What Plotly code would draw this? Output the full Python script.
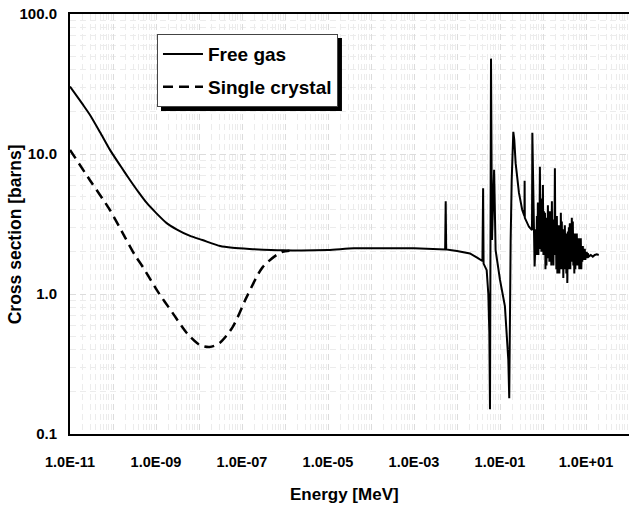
import plotly.graph_objects as go

# ---------------- data ----------------
# Free gas, smooth thermal part (Energy MeV, cross section barns)
fg_smooth_E = [1.0e-11, 2.0e-11, 2.92e-11, 5.0e-11, 8.5e-11, 1.5e-10, 2.5e-10, 4.0e-10,
               6.1e-10, 1.0e-9, 1.77e-9, 3.0e-9, 6.2e-9, 1.2e-8, 3.1e-8, 6.0e-8,
               1.5e-7, 9.0e-7, 1.0e-5, 4.0e-5, 1.0e-3]
fg_smooth_S = [30.3, 22.5, 19.0, 14.3, 10.7, 8.2, 6.5, 5.3,
               4.47, 3.8, 3.21, 2.9, 2.6, 2.43, 2.2, 2.14,
               2.1, 2.05, 2.06, 2.12, 2.12]

# Free gas, resonance region
fg_res_E = [1.0e-3, 3.0e-3, 5.3e-3, 5.46e-3, 5.6e-3, 1.0e-2, 2.0e-2, 3.0e-2, 3.9e-2,
            4.05e-2, 4.15e-2, 4.9e-2, 5.35e-2, 5.65e-2, 5.85e-2, 6.18e-2, 6.5e-2,
            7.3e-2, 7.9e-2, 0.100, 0.130, 0.156, 0.164, 0.177, 0.187, 0.204, 0.215,
            0.231, 0.276, 0.329, 0.370, 0.374, 0.378, 0.471, 0.555, 0.565, 0.638,
            0.684, 0.7025, 0.721, 0.7405, 0.761, 0.7816, 0.803, 0.8248, 0.847, 0.870,
            0.894, 0.918, 0.943, 0.9686, 0.995, 1.022, 1.05, 1.078, 1.11, 1.140,
            1.17, 1.202, 1.23, 1.263, 1.30, 1.335, 1.37, 1.407, 1.45, 1.489,
            1.52, 1.561, 1.61, 1.654, 1.70, 1.746, 1.79, 1.838, 1.89, 1.941,
            1.99, 2.044, 2.10, 2.157, 2.22, 2.280, 2.34, 2.403, 2.47, 2.537,
            2.60, 2.670, 2.74, 2.814, 2.89, 2.968, 3.05, 3.133, 3.22, 3.307,
            3.40, 3.492, 3.58, 3.677, 3.78, 3.882, 3.99, 4.098, 4.21, 4.324,
            4.44, 4.560, 4.68, 4.807, 4.94, 5.074, 5.21, 5.351, 5.49, 5.639,
            5.79, 5.947, 6.11, 6.276, 6.45, 6.625, 6.80, 6.984, 7.17, 7.364,
            7.57, 7.775, 7.98, 8.196, 8.43, 8.658, 8.89, 9.131, 9.37, 9.624,
            9.89, 10.16, 10.4, 10.68, 11.0, 11.6, 12.9, 14.4, 16.0, 17.8, 19.8]
fg_res_S = [2.12, 2.10, 2.08, 4.6, 2.08, 2.03, 1.95, 1.81, 1.72,
            5.7, 1.65, 1.48, 1.0, 0.53, 0.15, 48.0, 2.43,
            7.7, 2.06, 1.26, 0.82, 0.34, 0.18, 2.43, 6.5, 14.4, 12.6,
            8.6, 5.27, 3.98, 3.6, 6.45, 3.5, 3.02, 2.86, 14.2, 1.57,
            2.9, 1.9, 3.6, 2.0, 4.5, 1.9, 3.8, 2.1, 8.1, 2.3,
            4.2, 2.0, 4.8, 2.4, 6.0, 1.9, 3.9, 2.2, 3.8, 1.5,
            3.3, 1.6, 3.5, 1.9, 4.3, 1.8, 3.6, 1.7, 3.9, 2.0,
            3.4, 1.6, 4.6, 1.7, 3.2, 1.6, 3.4, 1.9, 7.9, 2.1,
            3.3, 1.5, 3.6, 1.4, 3.0, 1.6, 3.1, 1.4, 2.9, 1.5,
            3.8, 1.6, 3.3, 1.5, 2.9, 1.3, 2.8, 1.5, 3.1, 1.7,
            2.7, 1.4, 2.6, 1.2, 2.8, 1.5, 3.0, 1.6, 3.2, 1.5,
            3.0, 1.9, 3.5, 1.7, 3.3, 1.6, 2.5, 1.4, 2.7, 1.5,
            2.4, 1.6, 2.7, 1.6, 2.4, 1.7, 2.5, 1.5, 2.3, 1.7,
            2.5, 1.5, 2.2, 1.7, 2.2, 1.8, 2.1, 1.75, 2.1, 1.75,
            2.0, 1.8, 2.0, 1.8, 1.95, 1.85, 1.9, 1.85, 1.9, 1.92, 1.9]

# Single crystal
sc_E = [1.0e-11, 2.91e-11, 8.47e-11, 1.89e-10, 3.22e-10, 4.94e-10, 1.04e-9, 2.45e-9,
        5.19e-9, 1.04e-8, 1.77e-8, 3.02e-8, 6.05e-8, 1.28e-7, 3.0e-7, 6.35e-7,
        8.75e-7, 1.27e-6]
sc_S = [10.7, 6.5, 3.98, 2.55, 1.9, 1.56, 1.07, 0.73,
        0.527, 0.432, 0.418, 0.447, 0.58, 0.95, 1.55, 1.9,
        2.0, 2.04]

x_tick_vals = [1e-11, 1e-10, 1e-9, 1e-8, 1e-7, 1e-6, 1e-5, 1e-4, 1e-3, 1e-2, 1e-1, 1e0, 1e1, 1e2]
x_tick_text = ["1.0E-11", "", "1.0E-09", "", "1.0E-07", "", "1.0E-05", "",
               "1.0E-03", "", "1.0E-01", "", "1.0E+01", ""]
y_tick_vals = [0.1, 1, 10, 100]
y_tick_text = ["0.1", "1.0", "10.0", "100.0"]

# minor grid positions (2..9 in each decade)
x_minor = [m * 10.0 ** d for d in range(-11, 2) for m in range(2, 10)]
y_minor = [m * 10.0 ** d for d in range(-1, 2) for m in range(2, 10)]

FONT = "Liberation Sans, Arial, sans-serif"

fig = go.Figure()
fig.add_trace(go.Scatter(x=fg_smooth_E, y=fg_smooth_S, mode="lines", name="Free gas",
                         legendgroup="fg", line=dict(color="black", width=2, shape="spline", smoothing=0.6)))
fig.add_trace(go.Scatter(x=fg_res_E, y=fg_res_S, mode="lines", name="Free gas",
                         legendgroup="fg", showlegend=False,
                         line=dict(color="black", width=2)))
fig.add_trace(go.Scatter(x=sc_E, y=sc_S, mode="lines", name="Single crystal",
                         legendgroup="sc",
                         line=dict(color="black", width=2.5, dash="10px,6px", shape="spline", smoothing=0.8)))

fig.update_layout(
    width=629, height=505,
    margin=dict(l=70, r=0, t=14, b=71),
    paper_bgcolor="white", plot_bgcolor="white",
    font=dict(family=FONT, color="black"),
    showlegend=True,
    legend=dict(x=0.1556, y=0.952, xanchor="left", yanchor="top",
                bgcolor="white", bordercolor="#444", borderwidth=1,
                font=dict(family=FONT, size=19, weight="bold", color="black"),
                itemwidth=40,
                traceorder="grouped", tracegroupgap=5),
    xaxis=dict(type="log", range=[-11, 2], showline=True, linecolor="black", linewidth=2,
               mirror=True, ticks="", tickmode="array", tickvals=x_tick_vals, ticktext=x_tick_text,
               tickfont=dict(family=FONT, size=14.5, weight="bold"), ticklabelstandoff=14,
               showgrid=True, gridcolor="#dcdcdc", griddash="6px,4px", gridwidth=1,
               minor=dict(tickmode="array", tickvals=x_minor, showgrid=True,
                          gridcolor="#ececec", griddash="6px,4px", gridwidth=1, ticks=""),
               zeroline=False),
    yaxis=dict(type="log", range=[-1, 2], showline=True, linecolor="black", linewidth=2,
               mirror=False, ticks="", tickmode="array", tickvals=y_tick_vals, ticktext=y_tick_text,
               tickfont=dict(family=FONT, size=15, weight="bold"), ticklabelstandoff=8,
               showgrid=True, gridcolor="#dcdcdc", griddash="6px,4px", gridwidth=1,
               minor=dict(tickmode="array", tickvals=y_minor, showgrid=True,
                          gridcolor="#ececec", griddash="6px,4px", gridwidth=1, ticks=""),
               zeroline=False),
    annotations=[
        dict(text="Energy [MeV]", xref="paper", yref="paper", x=0.491, y=-0.145,
             xanchor="center", yanchor="middle", showarrow=False,
             font=dict(family=FONT, size=17, weight="bold")),
        dict(text="Cross section [barns]", xref="paper", yref="paper", x=-0.098, y=0.476,
             xanchor="center", yanchor="middle", showarrow=False, textangle=-90,
             font=dict(family=FONT, size=17.5, weight="bold")),
    ],
    shapes=[
        dict(type="rect", xref="paper", yref="paper", x0=0.1628, x1=0.4865, y0=0.769, y1=0.943,
             fillcolor="black", line=dict(width=0), layer="above"),
    ],
)

fig.write_html("out.html", config={"displayModeBar": False},
               post_script="document.body.style.margin='0';document.body.style.padding='0';")
